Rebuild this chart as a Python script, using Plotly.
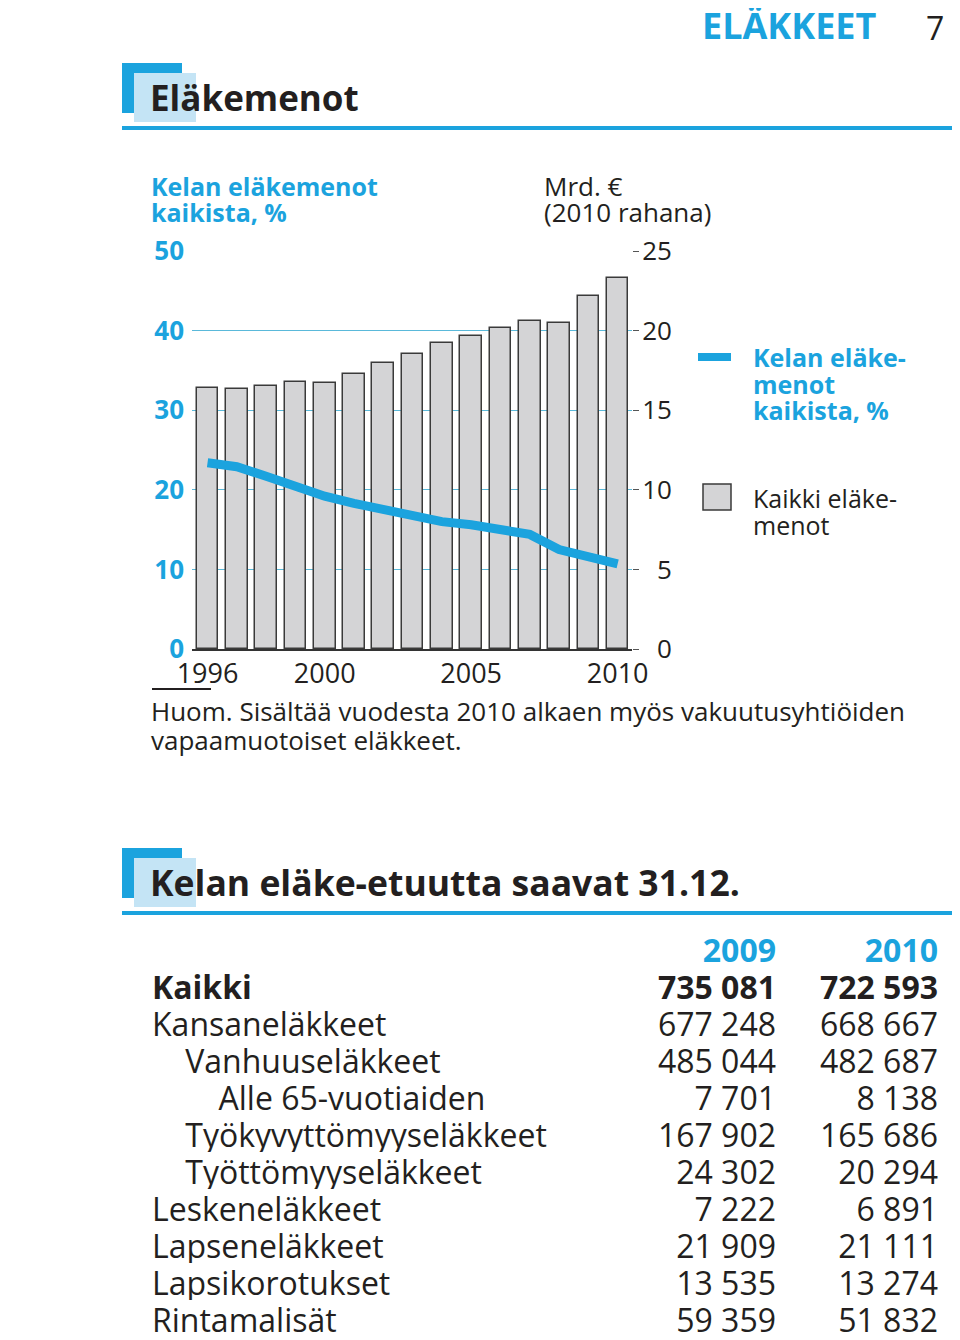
import plotly.graph_objects as go

# The page body adds an 8 px margin, so the figure is drawn 8 px smaller
# and page coordinates are converted to figure coordinates below.
OFF = 8
W, H = 960 - OFF, 1340 - OFF
BLUE = "#1ba3de"
LIGHT = "#c4e4f5"
DARK = "#231f20"
F = "Open Sans"

# ---- chart data ----
years = list(range(1996, 2011))
total_bn = [16.4, 16.35, 16.55, 16.8, 16.7, 17.25, 17.95, 18.55, 19.2, 19.65, 20.15, 20.6, 20.5, 22.2, 23.3]
kela_share = [23.4, 22.9, 21.7, 20.3, 19.2, 18.3, 17.5, 16.6, 16.0, 15.6, 15.0, 14.4, 12.5, 11.7, 10.7]
left_ticks = [0, 10, 20, 30, 40, 50]
right_ticks = [0, 5, 10, 15, 20, 25]
year_ticks = [1996, 2000, 2005, 2010]

# ---- table data ----
table_labels = ["Kaikki", "Kansaneläkkeet", "Vanhuuseläkkeet", "Alle 65-vuotiaiden",
                "Työkyvyttömyyseläkkeet", "Työttömyyseläkkeet", "Leskeneläkkeet",
                "Lapseneläkkeet", "Lapsikorotukset", "Rintamalisät"]
table_levels = [0, 0, 1, 2, 1, 1, 0, 0, 0, 0]
table_2009 = [735081, 677248, 485044, 7701, 167902, 24302, 7222, 21909, 13535, 59359]
table_2010 = [722593, 668667, 482687, 8138, 165686, 20294, 6891, 21111, 13274, 51832]
table_years = ["2009", "2010"]


def px(x):
    return (x - OFF) / W


def py(y):
    return 1 - (y - OFF) / H


def fmt(v):
    return f"{v:,}".replace(",", " ")


fig = go.Figure()
fig.add_trace(go.Bar(x=years, y=total_bn, xaxis="x", yaxis="y", width=0.74,
                     marker=dict(color="#d4d4d6", line=dict(color="#3a3a3a", width=1.5)),
                     showlegend=False, hoverinfo="skip"))
fig.add_trace(go.Scatter(x=years, y=kela_share, xaxis="x", yaxis="y2", mode="lines",
                         line=dict(color=BLUE, width=9), showlegend=False, hoverinfo="skip"))

indent = {0: "", 1: "\u00a0" * 4, 2: "\u00a0" * 8}
lab = [indent[lv] + l for l, lv in zip(table_labels, table_levels)]
c09 = [fmt(v) for v in table_2009]
c10 = [fmt(v) for v in table_2010]

ROW = 37
T0 = 930          # top of table (page px)
COLW = [476, 164, 162]
TX = [px(144), px(946)]
ALIGN = ["left", "right", "right"]
NOLINE = dict(color="white", width=0)
TS = 32

# years header + bold total row
fig.add_trace(go.Table(
    domain=dict(x=TX, y=[py(T0 + 2 * ROW), py(T0)]),
    columnwidth=COLW,
    header=dict(values=["", table_years[0], table_years[1]], align=ALIGN, height=ROW,
                fill_color="white", line=NOLINE,
                font=dict(family=F, size=TS, color=BLUE, weight=700)),
    cells=dict(values=[[lab[0]], [c09[0]], [c10[0]]], align=ALIGN, height=ROW,
               fill_color="white", line=NOLINE,
               font=dict(family=F, size=TS, color=DARK, weight=700)),
))
# remaining rows
fig.add_trace(go.Table(
    domain=dict(x=TX, y=[0, py(T0 + 2 * ROW)]),
    columnwidth=COLW,
    header=dict(values=[lab[1], c09[1], c10[1]], align=ALIGN, height=ROW,
                fill_color="white", line=NOLINE,
                font=dict(family=F, size=TS, color=DARK, weight=400)),
    cells=dict(values=[lab[2:], c09[2:], c10[2:]], align=ALIGN, height=ROW,
               fill_color="white", line=NOLINE,
               font=dict(family=F, size=TS, color=DARK, weight=400)),
))

shapes = []
# section decorations
for top, rule in [(63, 128), (848, 913)]:
    shapes.append(dict(type="rect", xref="paper", yref="paper", x0=px(122), x1=px(182),
                       y0=py(top + 50), y1=py(top), fillcolor=BLUE, line=dict(width=0), layer="below"))
    shapes.append(dict(type="rect", xref="paper", yref="paper", x0=px(134), x1=px(196),
                       y0=py(top + 59), y1=py(top + 10), fillcolor=LIGHT, line=dict(width=0), layer="below"))
    shapes.append(dict(type="rect", xref="paper", yref="paper", x0=px(122), x1=px(952),
                       y0=py(rule + 2), y1=py(rule - 2), fillcolor=BLUE, line=dict(width=0)))
# legend keys
shapes.append(dict(type="rect", xref="paper", yref="paper", x0=px(698), x1=px(731),
                   y0=py(361), y1=py(353), fillcolor=BLUE, line=dict(width=0)))
shapes.append(dict(type="rect", xref="paper", yref="paper", x0=px(703), x1=px(731),
                   y0=py(510), y1=py(484), fillcolor="#d4d4d6", line=dict(color="#3a3a3a", width=1.5)))
# note rule
shapes.append(dict(type="line", xref="paper", yref="paper", x0=px(152), x1=px(211),
                   y0=py(689), y1=py(689), line=dict(color=DARK, width=2)))

ann = []


def text(x, y, s, size=26, color=DARK, bold=False, xanchor="left", family=F):
    ann.append(dict(xref="paper", yref="paper", x=px(x), y=py(y), text=s, showarrow=False,
                    xanchor=xanchor, yanchor="middle", align="left",
                    font=dict(family=family, size=size, color=color, weight=700 if bold else 400)))


text(878, 25, "ELÄKKEET", size=36, color=BLUE, bold=True, xanchor="right")
text(946, 27, "7", size=32, color=DARK, xanchor="right")
text(148, 97, "Eläkemenot", size=35, color=DARK, bold=True)
text(148, 882, "Kelan eläke-etuutta saavat 31.12.", size=35.5, color=DARK, bold=True)
text(149, 186, "Kelan eläkemenot", size=25, color=BLUE, bold=True)
text(149, 212, "kaikista, %", size=25, color=BLUE, bold=True)
text(542, 186, "Mrd. €", size=26, color=DARK)
text(542, 212, "(2010 rahana)", size=26, color=DARK)
text(751, 357, "Kelan eläke-", size=25, color=BLUE, bold=True)
text(751, 384, "menot", size=25, color=BLUE, bold=True)
text(751, 410, "kaikista, %", size=25, color=BLUE, bold=True)
text(751, 498, "Kaikki eläke-", size=25, color=DARK)
text(751, 525, "menot", size=25, color=DARK)
text(149, 711, "Huom. Sisältää vuodesta 2010 alkaen myös vakuutusyhtiöiden", size=26, color=DARK)
text(149, 740, "vapaamuotoiset eläkkeet.", size=26, color=DARK)

fig.update_layout(
    template="none",
    width=W, height=H, margin=dict(l=0, r=0, t=0, b=0, pad=0),
    paper_bgcolor="white", plot_bgcolor="white",
    xaxis=dict(domain=[px(192), px(632)], range=[1995.47, 2010.49], tickvals=year_ticks,
               ticks="", showline=True, linecolor="#333333", linewidth=1.5,
               showgrid=False, zeroline=False, automargin=False,
               tickfont=dict(family=F, size=27, color=DARK)),
    yaxis=dict(domain=[py(649), py(251)], range=[0, 25], side="right", anchor="x",
               tickvals=right_ticks,
               ticktext=[("\u2007" + str(t)) if t < 10 else str(t) for t in right_ticks],
               ticks="outside", ticklen=6, tickcolor="#555555", tickwidth=1,
               ticklabelstandoff=-2,
               showgrid=True, gridcolor="#5ab9da", gridwidth=1, zeroline=False, automargin=False,
               tickfont=dict(family=F, size=26, color=DARK)),
    yaxis2=dict(overlaying="y", side="left", anchor="x", range=[0, 50], tickvals=left_ticks,
                showgrid=False, zeroline=False, ticks="", ticklabelstandoff=7, automargin=False,
                tickfont=dict(family=F, size=26, color=BLUE, weight=700)),
    shapes=shapes, annotations=ann, bargap=0,
)

fig.write_html("out.html")
